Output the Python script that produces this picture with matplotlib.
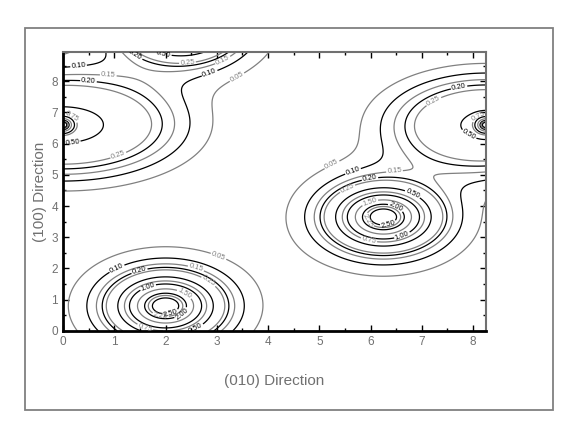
import numpy as np
import matplotlib.pyplot as plt
from matplotlib.patches import Rectangle
from matplotlib.ticker import MultipleLocator

plt.rcParams['font.family'] = ['Liberation Sans', 'DejaVu Sans']

# Peak parameters (data units): centre, height, widths
# big peaks are a sharp core plus a broad tail
peak_x = [2.0, 2.0, 2.3, 2.3, 6.25, 6.25, 0.0, 8.25, 0.0, 8.25]
peak_y = [0.8, 0.8, 9.75, 9.75, 3.65, 3.65, 6.6, 6.6, 6.6, 6.6]
peak_height = [2.6, 0.3, 2.6, 0.3, 2.6, 0.3, 0.6, 0.55, 2.3, 2.3]
peak_wx = [0.45, 1.0, 0.45, 1.0, 0.45, 1.0, 1.3, 1.1, 0.12, 0.12]
peak_wy = [0.45, 1.0, 0.45, 1.0, 0.45, 1.0, 0.95, 0.9, 0.15, 0.15]

levels = [0.05, 0.10, 0.15, 0.20, 0.25, 0.50, 0.75, 1.00, 1.50, 2.00, 2.25, 2.50]
line_colors = ['#808080', 'black'] * 6

x_max = 8.25
y_max = 8.94

# Grid
x = np.linspace(0, x_max, 300)
y = np.linspace(0, y_max, 300)
X, Y = np.meshgrid(x, y)
Z = np.zeros_like(X)
for px, py, h, wx, wy in zip(peak_x, peak_y, peak_height, peak_wx, peak_wy):
    Z += h * np.exp(-0.5 * (((X - px) / wx) ** 2 + ((Y - py) / wy) ** 2))

fig = plt.figure(figsize=(5.73, 4.36), dpi=100)
fig.patches.append(Rectangle((0.0436, 0.0596), 0.921, 0.876, transform=fig.transFigure,
                             fill=False, edgecolor='#808080', linewidth=1.3))

ax = fig.add_axes([0.110, 0.241, 0.738, 0.640])
cs = ax.contour(X, Y, Z, levels=levels, colors=line_colors, linewidths=0.9)
ax.clabel(cs, fmt='%.2f', fontsize=5.5, inline=True, inline_spacing=1)

ax.set_xlim(0, x_max)
ax.set_ylim(0, y_max)
ax.xaxis.set_major_locator(MultipleLocator(1))
ax.yaxis.set_major_locator(MultipleLocator(1))
ax.xaxis.set_minor_locator(MultipleLocator(0.5))
ax.yaxis.set_minor_locator(MultipleLocator(0.5))
ax.tick_params(which='both', direction='in', top=True, right=True, colors='black',
               labelcolor='#707070', labelsize=8.5)
ax.tick_params(which='major', length=4, width=1)
ax.tick_params(which='minor', length=2.5, width=1)

for side in ['left', 'bottom']:
    ax.spines[side].set_linewidth(2)
    ax.spines[side].set_color('black')
for side in ['top', 'right']:
    ax.spines[side].set_linewidth(1.5)
    ax.spines[side].set_color('#707070')

ax.set_xlabel('(010) Direction', color='#707070', fontsize=11, labelpad=19)
ax.set_ylabel('(100) Direction', color='#707070', fontsize=11, labelpad=3)

fig.savefig('out.png', dpi=100)
